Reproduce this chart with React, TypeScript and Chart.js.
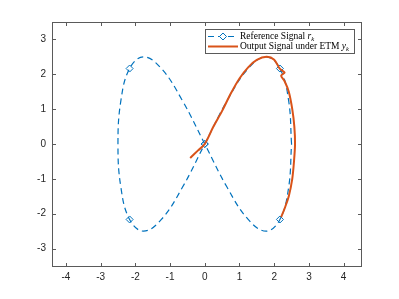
import React, { useEffect, useRef } from "react";
import { Chart, registerables } from "chart.js";
Chart.register(...registerables);

// Reference signal r_k (figure-eight)
const refX = [2.5, 2.415, 2.165, 1.768, 1.25, 0.647, 0, -0.647, -1.25, -1.768, -2.165, -2.415, -2.5, -2.415, -2.165, -1.768, -1.25, -0.647, 0, 0.647, 1.25, 1.768, 2.165, 2.415, 2.5];
const refY = [0, 1.25, 2.165, 2.5, 2.165, 1.25, 0, -1.25, -2.165, -2.5, -2.165, -1.25, 0, 1.25, 2.165, 2.5, 2.165, 1.25, 0, -1.25, -2.165, -2.5, -2.165, -1.25, 0];
const refMarkerIdx = [2, 6, 10, 14, 18, 22];

// Output signal under ETM y_k
const outX = [-0.42, -0.2, 0.0, 0.25, 0.5, 0.75, 1.0, 1.25, 1.5, 1.78, 2.0, 2.16, 2.3, 2.2, 2.3, 2.42, 2.52, 2.58, 2.6, 2.57, 2.52, 2.42, 2.3, 2.2];
const outY = [-0.4, -0.19, 0.0, 0.5, 0.95, 1.45, 1.88, 2.2, 2.41, 2.5, 2.42, 2.16, 2.05, 1.96, 1.8, 1.5, 1.0, 0.5, 0.0, -0.5, -1.0, -1.5, -1.85, -2.1];

const xTicks = [-4, -3, -2, -1, 0, 1, 2, 3, 4];
const yTicks = [-3, -2, -1, 0, 1, 2, 3];

const refLabel = ["Reference Signal ", "r", "k"];
const outLabel = ["Output Signal under ETM ", "y", "k"];

const BLUE = "#0072BD";
const ORANGE = "#D95319";
const AXIS = "#262626";
const FRAME = "#5a5a5a";

const framePlugin = {
  id: "frameLegend",
  afterDraw(chart: any) {
    const { ctx, chartArea: a, scales } = chart;
    const xs = scales.x, ys = scales.y;
    ctx.save();
    ctx.strokeStyle = FRAME;
    ctx.lineWidth = 1;
    ctx.strokeRect(a.left + 0.5, a.top + 0.5, a.right - a.left, a.bottom - a.top);
    ctx.beginPath();
    xTicks.forEach((v) => {
      const px = Math.round(xs.getPixelForValue(v)) + 0.5;
      ctx.moveTo(px, a.bottom); ctx.lineTo(px, a.bottom - 3);
      ctx.moveTo(px, a.top + 1); ctx.lineTo(px, a.top + 4);
    });
    yTicks.forEach((v) => {
      const py = Math.round(ys.getPixelForValue(v)) + 0.5;
      ctx.moveTo(a.left + 1, py); ctx.lineTo(a.left + 4, py);
      ctx.moveTo(a.right, py); ctx.lineTo(a.right - 3, py);
    });
    ctx.stroke();

    // legend
    const L = 205, T = 29, R = 354, B = 53;
    ctx.fillStyle = "#ffffff";
    ctx.fillRect(L, T, R - L, B - T);
    ctx.strokeStyle = FRAME;
    ctx.strokeRect(L + 0.5, T + 0.5, R - L, B - T);

    const rows = [
      { y: 36, label: refLabel, color: BLUE, dash: [6, 4], width: 1.2, marker: true },
      { y: 46, label: outLabel, color: ORANGE, dash: [], width: 2, marker: false },
    ];
    rows.forEach((r) => {
      ctx.strokeStyle = r.color;
      ctx.lineWidth = r.width;
      ctx.setLineDash(r.dash);
      ctx.beginPath();
      ctx.moveTo(208, r.y + 0.5);
      ctx.lineTo(238, r.y + 0.5);
      ctx.stroke();
      ctx.setLineDash([]);
      if (r.marker) {
        ctx.lineWidth = 1;
        ctx.fillStyle = "#ffffff";
        ctx.beginPath();
        const cx = 223, cy = r.y + 0.5, s = 3.5;
        ctx.moveTo(cx, cy - s); ctx.lineTo(cx + s, cy); ctx.lineTo(cx, cy + s); ctx.lineTo(cx - s, cy); ctx.closePath();
        ctx.fill(); ctx.stroke();
      }
      ctx.fillStyle = "#000000";
      ctx.textBaseline = "middle";
      ctx.textAlign = "left";
      let tx = 240;
      ctx.font = "9.5px 'Liberation Serif'";
      ctx.fillText(r.label[0], tx, r.y + 0.5);
      tx += ctx.measureText(r.label[0]).width;
      ctx.font = "italic 9.5px 'Liberation Serif'";
      ctx.fillText(r.label[1], tx, r.y + 0.5);
      tx += ctx.measureText(r.label[1]).width;
      ctx.font = "italic 6.5px 'Liberation Serif'";
      ctx.fillText(r.label[2], tx, r.y + 3);
    });
    ctx.restore();
  },
};

export default function App() {
  const ref = useRef<HTMLCanvasElement>(null);
  useEffect(() => {
    const canvas = ref.current!;
    const chart = new Chart(canvas, {
      type: "scatter",
      data: {
        datasets: [
          {
            label: "Output Signal under ETM y_k",
            data: outX.map((x, i) => ({ x, y: outY[i] })),
            showLine: true,
            borderColor: ORANGE,
            borderWidth: 2,
            pointRadius: 0,
            tension: 0.3,
            order: 1,
          },
          {
            label: "Reference Signal r_k",
            data: refX.map((x, i) => ({ x, y: refY[i] })),
            showLine: true,
            borderColor: BLUE,
            borderWidth: 1.2,
            borderDash: [6, 4],
            tension: 0.4,
            pointStyle: "rectRot",
            pointRadius: (c: any) => (refMarkerIdx.includes(c.dataIndex) ? 3.5 : 0),
            pointBorderColor: BLUE,
            pointBackgroundColor: "rgba(0,0,0,0)",
            pointBorderWidth: 1,
            order: 2,
          },
        ],
      },
      options: {
        animation: false,
        responsive: false,
        devicePixelRatio: 1,
        layout: { padding: { left: 0, top: 22, right: 38, bottom: 0 } },
        plugins: { legend: { display: false }, tooltip: { enabled: false } },
        scales: {
          x: {
            type: "linear",
            min: -4.4,
            max: 4.5,
            grid: { display: false, drawTicks: false },
            border: { display: false },
            afterBuildTicks: (s: any) => { s.ticks = xTicks.map((v) => ({ value: v })); },
            afterFit: (s: any) => { s.height = 33; },
            ticks: { color: AXIS, padding: 5, font: { family: "'Liberation Sans'", size: 10 }, maxRotation: 0 },
          },
          y: {
            type: "linear",
            min: -3.5,
            max: 3.5,
            grid: { display: false, drawTicks: false },
            border: { display: false },
            afterBuildTicks: (s: any) => { s.ticks = yTicks.map((v) => ({ value: v })); },
            afterFit: (s: any) => { s.width = 52; },
            ticks: { color: AXIS, padding: 6, font: { family: "'Liberation Sans'", size: 10 } },
          },
        },
      },
      plugins: [framePlugin],
    } as any);
    return () => chart.destroy();
  }, []);
  return (
    <div style={{ position: "fixed", left: 0, top: 0, width: 399, height: 299, background: "#fff" }}>
      <canvas ref={ref} width={399} height={299} style={{ width: 399, height: 299 }} />
    </div>
  );
}
